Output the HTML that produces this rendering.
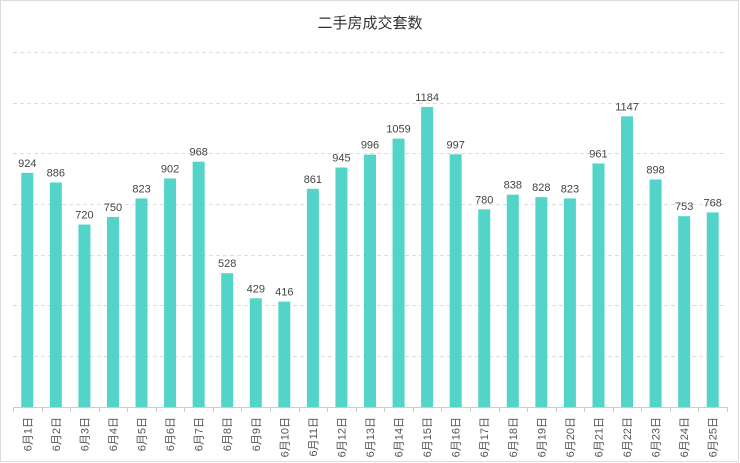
<!DOCTYPE html>
<html><head><meta charset="utf-8"><style>
body{margin:0;background:#fff;}
svg{display:block;font-family:"Liberation Sans","Noto Sans CJK SC",sans-serif;}
</style></head><body>
<svg width="740" height="463" viewBox="0 0 740 463">
<rect x="0.5" y="0.5" width="738" height="461" fill="#fff" stroke="#dcdcdc"/>
<text x="370" y="28" text-anchor="middle" font-size="15" fill="#333">二手房成交套数</text>
<g stroke="#ddd" stroke-dasharray="4,3">
<line x1="13" x2="727" y1="52.5" y2="52.5"/><line x1="13" x2="727" y1="103.5" y2="103.5"/>
<line x1="13" x2="727" y1="153.5" y2="153.5"/><line x1="13" x2="727" y1="204.5" y2="204.5"/>
<line x1="13" x2="727" y1="255.5" y2="255.5"/><line x1="13" x2="727" y1="305.5" y2="305.5"/>
<line x1="13" x2="727" y1="356.5" y2="356.5"/>
</g>
<g id="bars"></g>
<line x1="13" x2="727" y1="407.5" y2="407.5" stroke="#ccc"/>
<g id="ticks" stroke="#ccc"></g>
<g id="labels"></g>
</svg>
<script>
var v=[924,886,720,750,823,902,968,528,429,416,861,945,996,1059,1184,997,780,838,828,823,961,1147,898,753,768];
var ns="http://www.w3.org/2000/svg",b=document.getElementById("bars"),t=document.getElementById("ticks"),l=document.getElementById("labels");
var bw=(727-13)/25;
function el(n,a,p,tx){var e=document.createElementNS(ns,n);for(var k in a)e.setAttribute(k,a[k]);if(tx)e.textContent=tx;p.appendChild(e);}
for(var i=0;i<=25;i++){var x=Math.round(13+i*bw)+0.5;el("line",{x1:x,x2:x,y1:407,y2:412},t);}
v.forEach(function(d,i){var c=13+(i+0.5)*bw,h=d*0.2534,y=407-h;
el("rect",{x:c-6,y:y,width:12,height:h,fill:"#53d4c8"},b);
el("text",{x:c,y:y-6,"text-anchor":"middle","font-size":"11",fill:"#444"},b,d);
el("text",{x:0,y:0,transform:"translate("+(c+4)+",417) rotate(-90)","text-anchor":"end","font-size":"11",fill:"#555"},l,"6月"+(i+1)+"日");
});
</script>
</body></html>
